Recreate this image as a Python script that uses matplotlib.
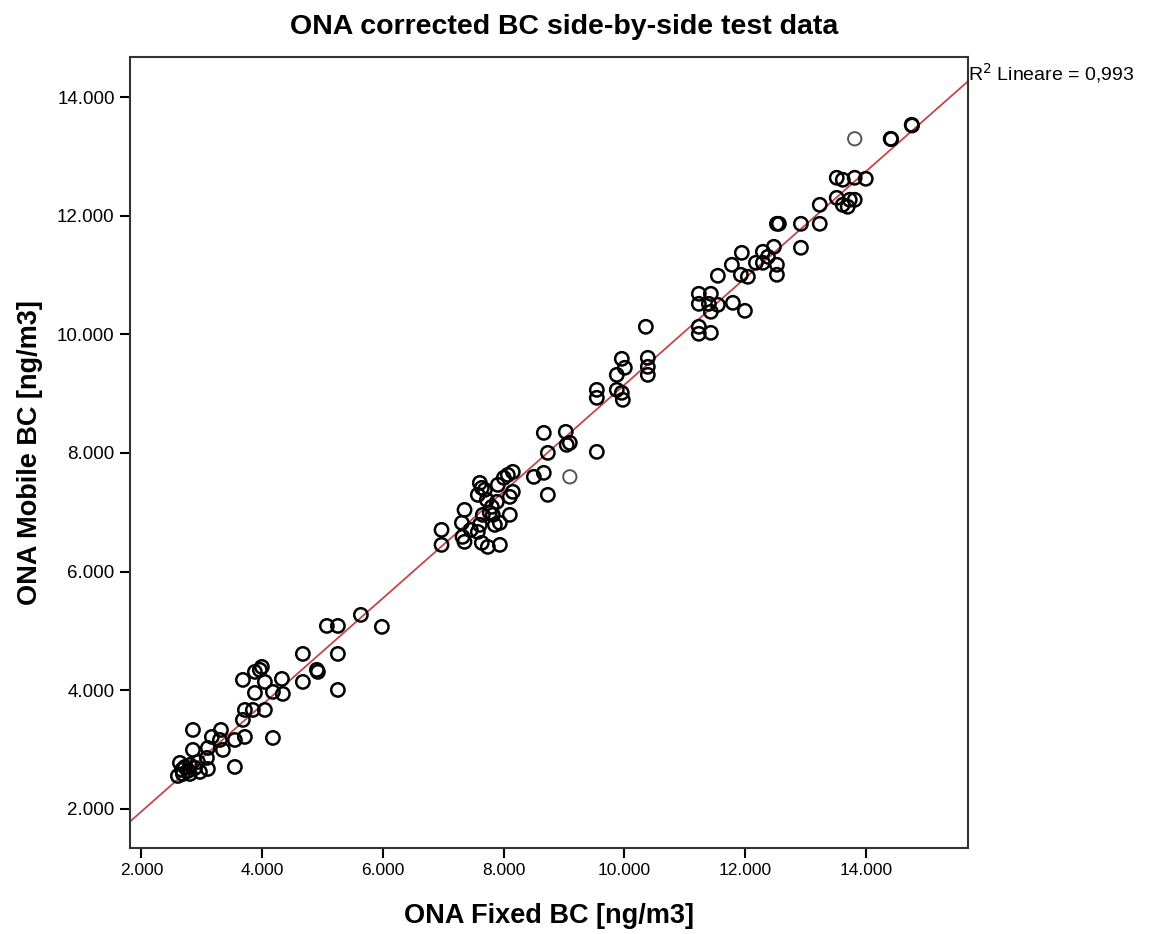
import matplotlib
matplotlib.use("Agg")
import matplotlib.pyplot as plt
from matplotlib.ticker import FuncFormatter, FixedLocator
import numpy as np

# ONA Fixed BC (x) and ONA Mobile BC (y), ng/m3
fixed_bc = [
    2638, 2720, 2671, 2803, 2936, 3085, 3101, 3548, 2687, 2770, 2886, 2853, 3101, 3350,
    2853, 3167, 3317, 3300, 3548, 3714, 4178, 3681, 3714, 3846, 4045, 3681, 4045, 4327,
    3880, 4178, 4343, 3962, 3880, 3995, 4674, 4674, 4906, 4923, 5254, 5254, 5072, 5254,
    5635, 5983, 2604, 2969, 2803,
    6971, 6971, 7352, 7308, 7319, 7352, 7605, 7572, 7638, 7738, 7937, 7937, 8102, 7655,
    7771, 7721, 7804, 7887, 7605, 7638, 7572, 7904, 8152, 8069, 8003, 8152, 8102, 8500,
    8665, 8732, 8665, 9029, 9096, 9045, 8732, 9543, 7456, 7854, 7688, 7821,
    9543, 9543, 9957, 10007, 9874, 9874, 9957, 9974, 10388, 10388, 10388, 10355, 11233,
    11233, 11432, 11233, 11432, 11233, 11399, 11548, 11797, 11996, 11432, 11548, 11780,
    11929, 12045, 12178, 12294, 12377, 11945, 12294, 12476, 12526, 12526, 12526, 12559,
    12924, 12924, 13236, 13236, 13517, 13617, 13815, 13998, 13517, 13617, 13733, 13815,
    13699, 14411, 14420, 14759, 14765,
]
mobile_bc = [
    2776, 2708, 2658, 2742, 2792, 2860, 2674, 2708, 2590, 2641, 2691, 2995, 3028, 2995,
    3332, 3214, 3332, 3163, 3163, 3214, 3197, 3501, 3669, 3669, 3669, 4175, 4141, 4192,
    3956, 3973, 3939, 4344, 4310, 4394, 4613, 4141, 4344, 4310, 4613, 4006, 5085, 5085,
    5271, 5069, 2556, 2624, 2590,
    6704, 6451, 7041, 6822, 6586, 6502, 6788, 6670, 6485, 6417, 6451, 6822, 6957, 6957,
    6991, 7210, 7092, 7176, 7496, 7412, 7294, 7463, 7682, 7631, 7581, 7345, 7260, 7598,
    7665, 7294, 8339, 8356, 8171, 8137, 8002, 8019, 6704, 6788, 7378, 6957,
    9064, 8930, 9587, 9436, 9317, 9064, 9014, 8896, 9604, 9452, 9317, 10127, 10127,
    10009, 10025, 10683, 10683, 10514, 10514, 10497, 10531, 10396, 10380, 10987, 11172,
    11004, 10970, 11206, 11206, 11307, 11374, 11391, 11475, 11172, 11004, 11863, 11863,
    11863, 11459, 11863, 12183, 12639, 12605, 12639, 12622, 12301, 12183, 12268, 12268,
    12150, 13296, 13290, 13532, 13520,
]
# points drawn fainter (single, non-overlapping) in the reference
faint_fixed = [9096, 13815]
faint_mobile = [7598, 13296]

r2_text = "R$^2$ Lineare = 0,993"
title = "ONA corrected BC side-by-side test data"
xlabel = "ONA Fixed BC [ng/m3]"
ylabel = "ONA Mobile BC [ng/m3]"
ticks = [2000, 4000, 6000, 8000, 10000, 12000, 14000]

plt.rcParams['font.family'] = ['Liberation Sans', 'DejaVu Sans']

fig = plt.figure(figsize=(11.49, 9.34), dpi=100)
ax = fig.add_axes([0.1131, 0.0921, 0.7293, 0.8469])

ax.scatter(fixed_bc, mobile_bc, s=92, facecolors='none', edgecolors='black',
           linewidths=1.8, zorder=3)
ax.scatter(faint_fixed, faint_mobile, s=92, facecolors='none', edgecolors='#555555',
           linewidths=1.4, zorder=3)

xlim = (1810, 15690)
ylim = (1342, 14675)
ax.set_xlim(*xlim)
ax.set_ylim(*ylim)

all_x = np.array(fixed_bc + faint_fixed, dtype=float)
all_y = np.array(mobile_bc + faint_mobile, dtype=float)
slope, intercept = np.polyfit(all_x, all_y, 1)
lx = np.array(xlim)
ax.plot(lx, slope * lx + intercept, color='#c04848', linewidth=1.3, zorder=2)

fmt = FuncFormatter(lambda v, p: f"{v:,.0f}".replace(",", "."))
ax.xaxis.set_major_locator(FixedLocator(ticks))
ax.yaxis.set_major_locator(FixedLocator(ticks))
ax.xaxis.set_major_formatter(fmt)
ax.yaxis.set_major_formatter(fmt)
ax.tick_params(axis='both', direction='out', length=7, width=1.5,
               colors='black', pad=4)
ax.tick_params(axis='x', labelsize=12.5)
ax.tick_params(axis='y', labelsize=13.5)
ax.tick_params(top=False, right=False)

for sp in ax.spines.values():
    sp.set_linewidth(1.5)
    sp.set_color('#333333')

ax.set_xlabel(xlabel, fontsize=19.5, fontweight='bold', labelpad=18)
ax.set_ylabel(ylabel, fontsize=19.5, fontweight='bold', labelpad=10)
fig.text(0.4909, 0.971, title, ha='center', va='center', fontsize=20.5, fontweight='bold')

ax.text(1.0, 0.980, r2_text, transform=ax.transAxes, ha='left', va='center',
        fontsize=14, clip_on=False)

fig.savefig("out.png", dpi=100)
